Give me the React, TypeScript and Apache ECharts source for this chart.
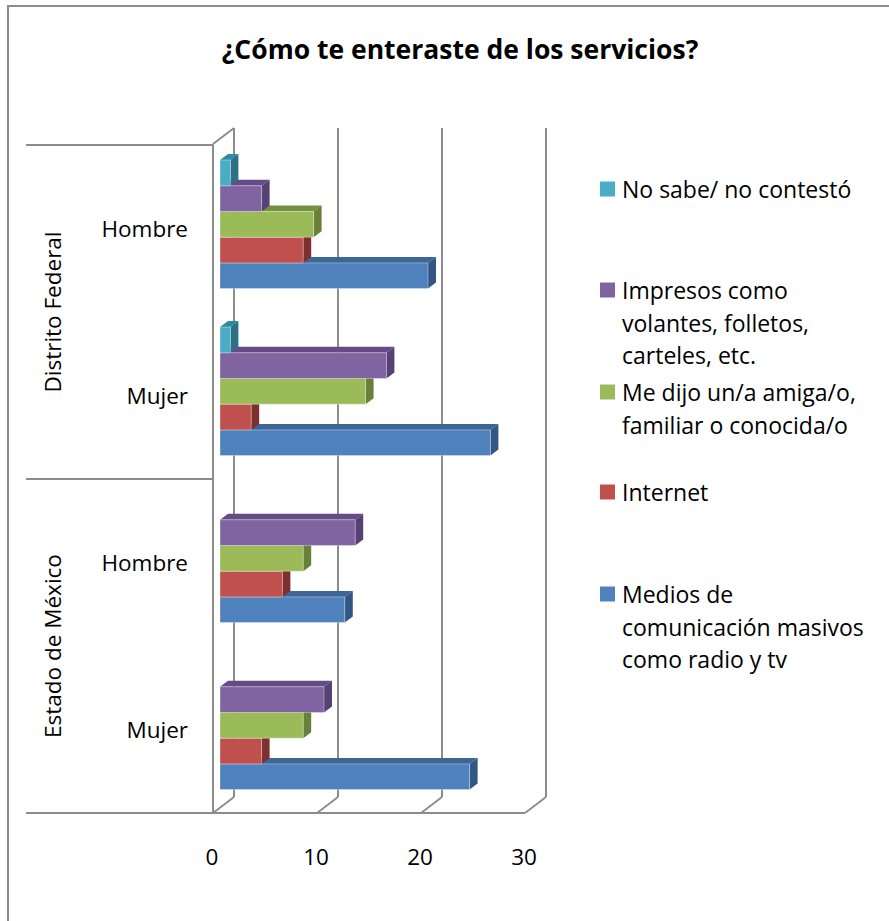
import React, { useEffect, useRef } from "react";
import * as echarts from "echarts";

const groups = ["Distrito Federal", "Estado de México"];
const sexes = ["Hombre", "Mujer"];
const categories = groups.flatMap((g) => sexes.map((s) => `${g}|${s}`));

const seriesNames = [
  "No sabe/ no contestó",
  "Impresos como volantes, folletos, carteles, etc.",
  "Me dijo un/a amiga/o, familiar o conocida/o",
  "Internet",
  "Medios de comunicación masivos como radio y tv",
];
const legendLines = [
  ["No sabe/ no contestó"],
  ["Impresos como", "volantes, folletos,", "carteles, etc."],
  ["Me dijo un/a amiga/o,", "familiar o conocida/o"],
  ["Internet"],
  ["Medios de", "comunicación masivos", "como radio y tv"],
];

// values per category: DF Hombre, DF Mujer, EdoMex Hombre, EdoMex Mujer
const noSabe = [1, 1, 0, 0];
const impresos = [4, 16, 13, 10];
const meDijo = [9, 14, 8, 8];
const internet = [8, 3, 6, 4];
const medios = [20, 26, 12, 24];
const seriesValues = [noSabe, impresos, meDijo, internet, medios];

const xTicks = [0, 10, 20, 30];

const frontColors = ["#4bacc6", "#8064a2", "#9bbb59", "#c0504d", "#4f81bd"];
const topColors = ["#2f8aa3", "#654c86", "#748f3f", "#8f3a37", "#3d6696"];
const sideColors = ["#2e7185", "#574174", "#68813a", "#7d302e", "#335684"];

const FONT = "'Open Sans', 'Noto Sans', sans-serif";
const GRAY = "#8c8c8c";
const LW = 2;

function barRender(slot: number) {
  return (params: any, api: any) => {
    const v = api.value(0);
    if (!v) return null;
    const ci = api.value(1);
    const p1 = api.coord([v, ci]);
    const p0 = api.coord([0, ci]);
    const band = api.size([0, 1])[1];
    const h = band * 0.154;
    const x0 = p0[0];
    const x1 = p1[0];
    const y = p1[1] - band * 0.41 + slot * h;
    const d = 8;
    const e = 6;
    return {
      type: "group",
      children: [
        {
          type: "polygon",
          shape: { points: [[x0, y], [x0 + d, y - e], [x1 + d, y - e], [x1, y]] },
          style: { fill: topColors[slot] },
        },
        {
          type: "polygon",
          shape: { points: [[x1, y], [x1 + d, y - e], [x1 + d, y + h - e], [x1, y + h]] },
          style: { fill: sideColors[slot] },
        },
        {
          type: "rect",
          shape: { x: x0, y, width: x1 - x0, height: h },
          style: { fill: frontColors[slot], stroke: "rgba(255,255,255,0.35)", lineWidth: 1 },
        },
      ],
    };
  };
}

function frameRender(params: any, api: any) {
  const v = api.value(0);
  const b = api.coord([v, 0]);
  const dx = -21;
  const dy = 16;
  const children: any[] = [
    {
      type: "line",
      shape: { x1: b[0], y1: b[1], x2: b[0] + dx, y2: b[1] + dy },
      style: { stroke: GRAY, lineWidth: LW },
    },
  ];
  if (params.dataIndex === 0) {
    const t = api.coord([v, 1]);
    const e = api.coord([xTicks[xTicks.length - 1], 0]);
    children.push({
      type: "line",
      shape: { x1: t[0], y1: t[1], x2: t[0] + dx, y2: t[1] + dy },
      style: { stroke: GRAY, lineWidth: LW },
    });
    children.push({
      type: "line",
      shape: { x1: b[0] + dx, y1: b[1] + dy, x2: e[0] + dx, y2: e[1] + dy },
      style: { stroke: GRAY, lineWidth: LW },
    });
  }
  return { type: "group", children };
}

const legendCenters = [189, 290, 392, 492, 594];

export default function App() {
  const ref = useRef<HTMLDivElement>(null);
  useEffect(() => {
    document.body.style.margin = "0";
    const chart = echarts.init(ref.current!, undefined, { renderer: "svg" });
    const order = [4, 3, 2, 1, 0];
    const barSeries = order.map((slot) => ({
      type: "custom",
      name: seriesNames[slot],
      xAxisIndex: 0,
      yAxisIndex: 0,
      renderItem: barRender(slot),
      encode: { x: 0, y: 1 },
      data: seriesValues[slot].map((val, j) => [val, j]),
    }));
    const legendGraphics: any[] = [];
    legendLines.forEach((lines, i) => {
      const c = legendCenters[i];
      legendGraphics.push({
        type: "rect",
        shape: { x: 600, y: c - 7.5, width: 15, height: 15 },
        style: { fill: frontColors[i] },
      });
      legendGraphics.push({
        type: "text",
        x: 622,
        y: c - 16.25,
        style: {
          text: lines.join("\n"),
          fontSize: 23,
          fontFamily: FONT,
          lineHeight: 32.5,
          fill: "#000",
          verticalAlign: "top",
          align: "left",
        },
      });
    });
    chart.setOption({
      animation: false,
      backgroundColor: "#fff",
      title: {
        text: "¿Cómo te enteraste de los servicios?",
        left: 455,
        top: 30,
        textAlign: "center",
        textStyle: { fontSize: 26.5, fontWeight: "bold", fontFamily: FONT, color: "#000" },
      },
      graphic: [
        {
          type: "rect",
          z: -10,
          shape: { x: 8, y: 6, width: 1000, height: 1000 },
          style: { fill: "none", stroke: GRAY, lineWidth: LW },
        },
        ...legendGraphics,
      ],
      grid: [
        { left: 220, top: 145, width: 312, height: 668 },
        { left: 234, top: 128, width: 312, height: 669 },
      ],
      xAxis: [
        {
          type: "value",
          gridIndex: 0,
          min: 0,
          max: 30,
          interval: 10,
          axisLine: { show: false },
          axisTick: { show: false },
          splitLine: { show: false },
          axisLabel: {
            fontSize: 22.5,
            fontFamily: FONT,
            color: "#000",
            margin: 32,
            padding: [0, 16, 0, 0],
          },
        },
        {
          type: "value",
          gridIndex: 1,
          min: 0,
          max: 30,
          interval: 10,
          axisLine: { show: false },
          axisTick: { show: false },
          axisLabel: { show: false },
          splitLine: { show: true, lineStyle: { color: GRAY, width: LW } },
        },
      ],
      yAxis: [
        {
          type: "category",
          gridIndex: 0,
          data: categories,
          inverse: true,
          axisLine: { show: false },
          axisTick: { show: false },
          axisLabel: {
            fontSize: 22.5,
            fontFamily: FONT,
            color: "#000",
            margin: 32,
            formatter: (v: string) => v.split("|")[1],
          },
        },
        {
          type: "category",
          gridIndex: 0,
          data: groups,
          inverse: true,
          position: "left",
          offset: 7,
          axisLine: { show: true, lineStyle: { color: GRAY, width: LW } },
          axisTick: { show: true, length: 187, lineStyle: { color: GRAY, width: LW } },
          axisLabel: {
            rotate: 90,
            fontSize: 22.5,
            fontFamily: FONT,
            color: "#000",
            margin: 149,
          },
        },
        {
          type: "value",
          gridIndex: 1,
          min: 0,
          max: 1,
          show: false,
        },
      ],
      series: [
        {
          type: "custom",
          name: "frame",
          xAxisIndex: 1,
          yAxisIndex: 2,
          renderItem: frameRender,
          encode: { x: 0 },
          data: xTicks.map((t) => [t]),
          silent: true,
        },
        ...barSeries,
      ],
    });
    return () => chart.dispose();
  }, []);
  return <div ref={ref} style={{ width: 889, height: 921 }} />;
}
